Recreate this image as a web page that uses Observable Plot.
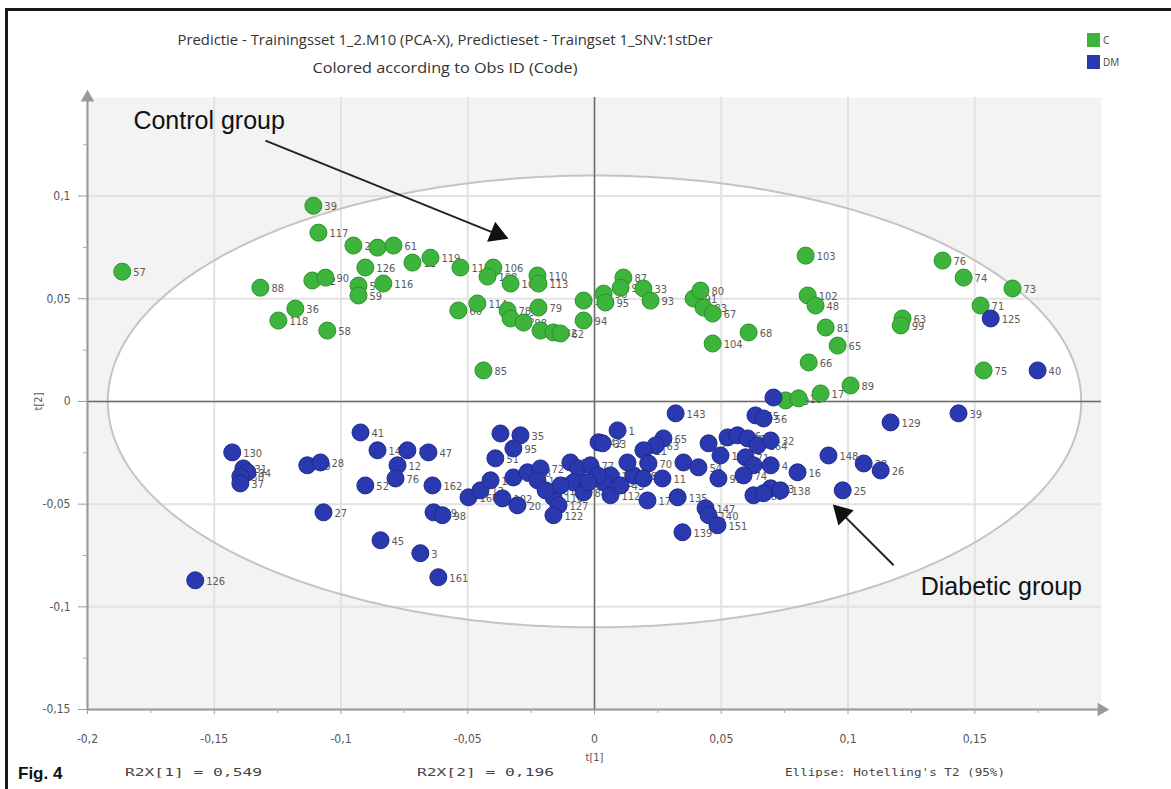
<!DOCTYPE html>
<html><head><meta charset="utf-8">
<script src="https://cdn.jsdelivr.net/npm/d3@7"></script>
<script src="https://cdn.jsdelivr.net/npm/@observablehq/plot@0.6"></script>
<style>
body{margin:0;background:#fff;width:1171px;height:789px;overflow:hidden;position:relative;font-family:"Liberation Sans",Arial,sans-serif}
#frame{position:absolute;left:5px;top:8px;width:1180px;height:800px;border-left:3px solid #1a1a1a;border-top:3px solid #1a1a1a;pointer-events:none}
svg{display:block}
</style></head><body>
<svg id="header" width="1171" height="90"></svg>
<div id="chart"></div>
<svg id="footer" width="1171" height="25"></svg>
<div id="frame"></div>
<script>
// ---- data ----
const groups = ["C", "DM"];
const groupColors = ["#3db53d", "#2b39b0"];
const groupStrokes = ["#2a8f2a", "#1e2a88"];
const titleLine1 = "Predictie - Trainingsset 1_2.M10 (PCA-X), Predictieset - Traingset 1_SNV:1stDer";
const titleLine2 = "Colored according to Obs ID (Code)";

const greenX = [-0.1863,-0.1109,-0.1089,-0.0951,-0.0856,-0.0793,-0.0718,-0.0647,-0.0904,-0.0833,-0.1113,-0.1061,-0.0931,-0.0931,-0.1318,-0.1180,-0.1247,-0.1054,-0.0529,-0.0399,-0.0422,-0.0331,-0.0225,-0.0221,-0.0537,-0.0462,-0.0343,-0.0331,-0.0280,-0.0221,-0.0213,-0.0162,-0.0134,-0.0043,-0.0043,0.0036,0.0043,0.0114,0.0103,0.0193,0.0221,0.0391,0.0418,0.0430,0.0466,0.0608,0.0466,-0.0438,0.0833,0.0841,0.0872,0.0912,0.0959,0.0845,0.1373,0.1456,0.1649,0.1523,0.1215,0.1208,0.1535,0.1010,0.0892,0.0754,0.0805];
const greenY = [0.0632,0.0953,0.0822,0.0759,0.0749,0.0759,0.0676,0.0700,0.0652,0.0574,0.0589,0.0603,0.0564,0.0516,0.0554,0.0452,0.0394,0.0345,0.0652,0.0652,0.0608,0.0574,0.0613,0.0574,0.0443,0.0477,0.0443,0.0404,0.0384,0.0457,0.0345,0.0336,0.0331,0.0491,0.0394,0.0525,0.0482,0.0603,0.0554,0.0550,0.0491,0.0501,0.0540,0.0457,0.0428,0.0336,0.0282,0.0151,0.0710,0.0516,0.0467,0.0360,0.0272,0.0190,0.0686,0.0603,0.0550,0.0467,0.0404,0.0370,0.0151,0.0078,0.0039,0.0005,0.0015];
const greenId = [57,39,117,29,27,61,11,119,126,116,92,90,50,59,88,36,118,58,115,106,108,107,110,113,60,114,78,86,98,79,84,82,62,100,94,96,95,87,97,33,93,91,80,83,67,68,104,85,103,102,48,81,65,66,76,74,73,71,63,99,75,89,17,19,18];

const blueX = [-0.0923,-0.1429,-0.1385,-0.1369,-0.1397,-0.1397,-0.1133,-0.1081,-0.0856,-0.0738,-0.0655,-0.0777,-0.0785,-0.0904,-0.1069,-0.0639,-0.0635,-0.0600,-0.0844,-0.0687,-0.0616,-0.1575,-0.0497,-0.0450,-0.0410,-0.0391,-0.0371,-0.0292,-0.0320,-0.0363,-0.0304,-0.0320,-0.0264,-0.0213,-0.0225,-0.0162,-0.0142,-0.0162,-0.0095,-0.0063,-0.0083,-0.0043,0.0016,0.0320,0.0091,0.0032,0.0635,0.0667,0.0272,0.0241,0.0193,0.0213,0.0154,0.0193,0.0268,0.0063,0.0036,0.0063,0.0209,0.0328,0.0351,0.0410,0.0489,0.0450,0.0525,0.0564,0.0604,0.0643,0.0596,0.0627,0.0588,0.0695,0.0695,0.0627,0.0667,0.0734,0.0801,0.0923,0.1062,0.1129,0.0979,0.1168,0.1436,0.1563,0.1748,0.0438,0.0450,0.0485,0.0347,0.0706,-0.0016,0.0012,-0.0024,-0.0134,-0.0193,0.0103,0.0130,0.0497,0.0695];
const blueY = [-0.0151,-0.0248,-0.0326,-0.0345,-0.0365,-0.0399,-0.0311,-0.0297,-0.0238,-0.0238,-0.0248,-0.0311,-0.0375,-0.0409,-0.0540,-0.0409,-0.0540,-0.0554,-0.0676,-0.0739,-0.0856,-0.0871,-0.0467,-0.0433,-0.0384,-0.0277,-0.0156,-0.0165,-0.0229,-0.0472,-0.0506,-0.0370,-0.0345,-0.0326,-0.0384,-0.0467,-0.0506,-0.0554,-0.0297,-0.0326,-0.0394,-0.0443,-0.0199,-0.0058,-0.0141,-0.0204,-0.0068,-0.0083,-0.0180,-0.0214,-0.0238,-0.0302,-0.0360,-0.0375,-0.0375,-0.0360,-0.0394,-0.0457,-0.0482,-0.0467,-0.0297,-0.0321,-0.0375,-0.0204,-0.0175,-0.0165,-0.0180,-0.0214,-0.0272,-0.0311,-0.0360,-0.0311,-0.0423,-0.0457,-0.0447,-0.0433,-0.0345,-0.0263,-0.0302,-0.0336,-0.0433,-0.0102,-0.0058,0.0404,0.0151,-0.0520,-0.0554,-0.0603,-0.0637,0.0019,-0.0311,-0.0360,-0.0394,-0.0409,-0.0433,-0.0409,-0.0297,-0.0263,-0.0190];
const blueId = [41,130,31,34,30,37,29,28,14,8,47,12,76,52,27,162,69,98,45,3,161,126,160,13,105,51,36,35,95,102,20,59,88,72,110,116,127,122,79,81,46,84,42,143,1,33,55,56,65,63,21,70,48,44,11,119,103,112,17,135,2,54,91,9,64,66,67,164,71,73,74,4,23,183,24,138,16,148,38,26,25,129,39,125,40,147,140,151,139,58,77,78,99,108,101,43,61,10,32];

const xTicks = [-0.2,-0.15,-0.1,-0.05,0,0.05,0.1,0.15];
const yTicks = [-0.15,-0.1,-0.05,0,0.05,0.1];
const xMinor = [-0.175,-0.125,-0.075,-0.025,0.025,0.075,0.125,0.175];
const yMinor = [-0.125,-0.075,-0.025,0.025,0.075,0.125];

// Hotelling's T2 (95%) ellipse semi-axes
const ellipseA = 0.192, ellipseB = 0.110;

const annotations = [
  {label: "Control group", x: -0.1819, y: 0.1365},
  {label: "Diabetic group", x: 0.1287, y: -0.0905}
];
const arrows = [
  {x1: -0.1298, y1: 0.127, x2: -0.0385, y2: 0.0815, rot: 112},
  {x1: 0.1180, y1: -0.0798, x2: 0.0975, y2: -0.0545, rot: -45}
];
const r2x1 = "R2X[1] = 0,549", r2x2 = "R2X[2] = 0,196", ellipseNote = "Ellipse: Hotelling's T2 (95%)";

// ---- build ----
const pts = [
  ...greenX.map((x, i) => ({x, y: greenY[i], id: greenId[i], g: groups[0]})),
  ...blueX.map((x, i) => ({x, y: blueY[i], id: blueId[i], g: groups[1]}))
];
const green = pts.filter(d => d.g === groups[0]);
const blue = pts.filter(d => d.g === groups[1]);

const ellHalf = d3.range(0, 201).map(i => {
  const t = Math.PI - Math.PI * i / 200;
  const x = ellipseA * Math.cos(t);
  const h = ellipseB * Math.sin(t);
  return {x, lo: -h, hi: h};
});
const ellLoop = d3.range(0, 361).map(i => {
  const t = 2 * Math.PI * i / 360;
  return {x: ellipseA * Math.cos(t), y: ellipseB * Math.sin(t)};
});

const fmt = d => String(d).replace(".", ",");
const tickFont = {fontFamily: "'Liberation Sans Narrow','DejaVu Sans Condensed',sans-serif", fontSize: "12px"};

const chart = Plot.plot({
  width: 1171, height: 674,
  marginLeft: 87, marginRight: 70, marginTop: 7, marginBottom: 55,
  x: {domain: [-0.2, 0.2]},
  y: {domain: [-0.15, 0.148]},
  style: {background: "transparent", ...tickFont, color: "#555"},
  marks: [
    Plot.frame({fill: "#f3f3f3", stroke: "none"}),
    Plot.areaY(ellHalf, {x: "x", y1: "lo", y2: "hi", fill: "white"}),
    Plot.gridX(xTicks, {stroke: "#e2e2e2", strokeOpacity: 1, strokeWidth: 2}),
    Plot.gridY(yTicks, {stroke: "#e2e2e2", strokeOpacity: 1, strokeWidth: 2}),
    Plot.line(ellLoop, {x: "x", y: "y", stroke: "#c4c4c4", strokeWidth: 2}),
    Plot.ruleX([0], {stroke: "#6e6e6e", strokeWidth: 1.5}),
    Plot.ruleY([0], {stroke: "#6e6e6e", strokeWidth: 1.5}),
    Plot.ruleX([-0.2], {stroke: "#9a9a9a", strokeWidth: 2}),
    Plot.ruleY([-0.15], {stroke: "#9a9a9a", strokeWidth: 2}),
    Plot.dot([{x: -0.2, y: 0.148, rot: 0}, {x: 0.2, y: -0.15, rot: 90}], {x: "x", y: "y", rotate: "rot", symbol: "triangle", r: 5, fill: "#9a9a9a", stroke: "none"}),
    Plot.axisX(xTicks, {tickSize: 5, tickPadding: 20, tickFormat: fmt, label: null, stroke: "#999", fill: "#555", fontSize: 12}),
    Plot.axisX(xMinor, {tickSize: 4, tickFormat: () => "", label: null, stroke: "#aaa"}),
    Plot.axisY(yTicks, {tickSize: 9, tickPadding: 8, tickFormat: fmt, label: null, stroke: "#999", fill: "#555", fontSize: 12}),
    Plot.axisY(yMinor, {tickSize: 4, tickFormat: () => "", label: null, stroke: "#aaa"}),
    Plot.text(["t[1]"], {x: 0, y: -0.1735, text: d => d, fontSize: 11, fill: "#555"}),
    Plot.text(["t[2]"], {x: -0.2195, y: 0, text: d => d, fontSize: 11, fill: "#555", rotate: -90}),
    Plot.text(pts, {x: "x", y: "y", text: "id", dx: 11, dy: 1, textAnchor: "start", fill: "#5a5a5a", fontSize: 11}),
    Plot.dot(green, {x: "x", y: "y", r: 8.5, fill: groupColors[0], stroke: groupStrokes[0], strokeWidth: 1}),
    Plot.dot(blue, {x: "x", y: "y", r: 8.5, fill: groupColors[1], stroke: groupStrokes[1], strokeWidth: 1}),
    Plot.link(arrows, {x1: "x1", y1: "y1", x2: "x2", y2: "y2", stroke: "#222", strokeWidth: 2}),
    Plot.dot(arrows, {x: "x2", y: "y2", rotate: "rot", symbol: "triangle", r: 8, fill: "#111", stroke: "none"}),
    Plot.text(annotations, {x: "x", y: "y", text: "label", textAnchor: "start", fontSize: 25, fill: "#111", fontFamily: "'Liberation Sans',Arial,sans-serif"})
  ]
});
document.getElementById("chart").appendChild(chart);

// header: title + legend
const hdr = d3.select("#header");
const tf = "'Open Sans','Liberation Sans',sans-serif";
hdr.append("text").attr("x", 445).attr("y", 45).attr("text-anchor", "middle").attr("font-size", 15)
  .attr("font-family", tf).attr("fill", "#333").attr("textLength", 535).attr("lengthAdjust", "spacingAndGlyphs").text(titleLine1);
hdr.append("text").attr("x", 445).attr("y", 73).attr("text-anchor", "middle").attr("font-size", 15)
  .attr("font-family", tf).attr("fill", "#333").attr("textLength", 265).attr("lengthAdjust", "spacingAndGlyphs").text(titleLine2);
groups.forEach((g, i) => {
  hdr.append("rect").attr("x", 1087).attr("y", 33 + i * 22).attr("width", 13).attr("height", 14).attr("fill", groupColors[i]);
  hdr.append("text").attr("x", 1103).attr("y", 44 + i * 22).attr("font-size", 10).attr("font-family", tf).attr("fill", "#444").text(g);
});

// footer
const ftr = d3.select("#footer");
ftr.append("text").attr("x", 18).attr("y", 15).attr("font-size", 17).attr("font-weight", "bold")
  .attr("font-family", "'Liberation Sans',Arial,sans-serif").attr("fill", "#111").text("Fig. 4");
const mono = "'DejaVu Sans Mono','Liberation Mono',monospace";
[[r2x1, 125, 137], [r2x2, 417, 137], [ellipseNote, 785, 220]].forEach(([t, x, w]) => {
  ftr.append("text").attr("x", x).attr("y", 12).attr("font-size", 11).attr("font-family", mono)
    .attr("fill", "#444").attr("textLength", w).attr("lengthAdjust", "spacingAndGlyphs").text(t);
});
</script>
</body></html>
